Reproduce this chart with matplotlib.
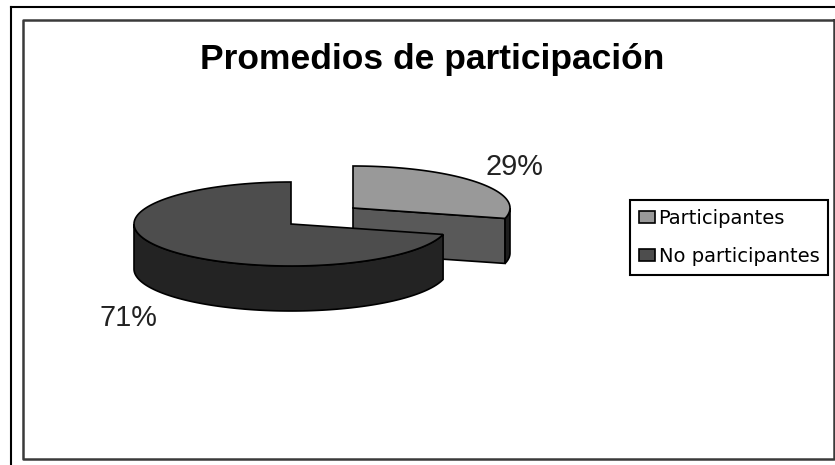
#!/usr/bin/env python3
import numpy as np
import matplotlib
matplotlib.use('Agg')
import matplotlib.pyplot as plt
from matplotlib.patches import Patch

# data
categories = ['Participantes', 'No participantes']
values = [29, 71]
pct_labels = ['29%', '71%']
title = 'Promedios de participación'

# style
TOP_COLORS = ['#999999', '#4d4d4d']
WALL_COLORS = ['#1e1e1e', '#232323']
CUT_COLOR = '#595959'
EDGE = '#000000'
LW = 1.2

# pie geometry (pixels)
W, H = 835, 465
CENTERS = [(353, 208), (291, 224)]
RX, RY = 157, 42
DEPTH = 45

plt.rcParams['font.family'] = ['Liberation Sans', 'DejaVu Sans']


def arc(center, a0, a1):
    # angle clockwise from 12 o'clock, degrees
    t = np.radians(np.linspace(a0, a1, 120))
    return center[0] + RX * np.sin(t), center[1] - RY * np.cos(t)


def draw_wall(ax, center, a0, a1, color):
    x, y = arc(center, a0, a1)
    ax.fill(np.r_[x, x[::-1]], np.r_[y, y[::-1] + DEPTH], fc=color, ec=EDGE, lw=LW)


fig = plt.figure(figsize=(W / 100, H / 100), dpi=100)
ax = fig.add_axes([0, 0, 1, 1])
ax.set_xlim(0, W)
ax.set_ylim(H, 0)
ax.axis('off')

# frames
ax.plot([10.5, 10.5], [7.5, H], color='#000000', lw=1.5)
ax.plot([10.5, W], [7.5, 7.5], color='#000000', lw=1.5)
ax.plot([834, 834, 23, 23, 834], [20.5, 458.5, 458.5, 20.5, 20.5], color='#3a3a3a', lw=1.8)

# slices
sweep = np.cumsum([0] + values) * 3.6

# Participantes
c = CENTERS[0]
a0, a1 = sweep[0], sweep[1]
ex, ey = arc(c, a1, a1)
ex, ey = ex[0], ey[0]
ax.fill([c[0], ex, ex, c[0]], [c[1], ey, ey + DEPTH, c[1] + DEPTH], fc=CUT_COLOR, ec=EDGE, lw=LW)
draw_wall(ax, c, 90, a1, WALL_COLORS[0])
x, y = arc(c, a0, a1)
ax.fill(np.r_[c[0], x], np.r_[c[1], y], fc=TOP_COLORS[0], ec=EDGE, lw=LW)

# No participantes
c = CENTERS[1]
a0, a1 = sweep[1], sweep[2]
draw_wall(ax, c, a0, 270, WALL_COLORS[1])
x, y = arc(c, a0, a1)
ax.fill(np.r_[c[0], x], np.r_[c[1], y], fc=TOP_COLORS[1], ec=EDGE, lw=LW)

# texts
ax.text(432, 60, title, fontsize=25.5, fontweight='bold', ha='center', va='center', color='black')
ax.text(514.5, 166.5, pct_labels[0], fontsize=20.8, ha='center', va='center', color='#222222')
ax.text(128.5, 317.5, pct_labels[1], fontsize=20.8, ha='center', va='center', color='#222222')

handles = [Patch(fc=col, ec=EDGE, lw=1.2) for col in TOP_COLORS]
leg = ax.legend(handles, categories, loc='upper left', bbox_to_anchor=(630, 200),
                bbox_transform=ax.transData, prop={'family': 'DejaVu Sans', 'size': 14},
                fancybox=False, framealpha=1, edgecolor=EDGE,
                handlelength=0.82, handleheight=0.62, handletextpad=0.2,
                labelspacing=0.98, borderpad=0.45, borderaxespad=0)
leg.get_frame().set_linewidth(1.5)

fig.savefig('out.png', dpi=100)
plt.close(fig)
